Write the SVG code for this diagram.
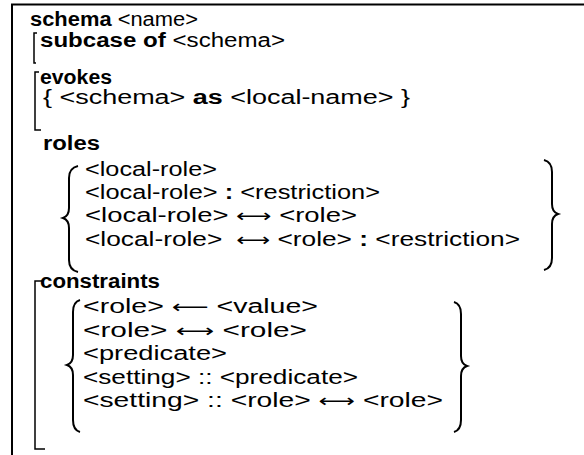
<svg xmlns="http://www.w3.org/2000/svg" width="584" height="455" viewBox="0 0 584 455">
<style>
text{font-family:"Liberation Sans",Arial,"DejaVu Sans",sans-serif;font-size:20px;fill:#000}
.b{font-weight:bold}
.ar{font-family:"DejaVu Sans",sans-serif;font-size:18px}
.ln{fill:none;stroke:#000;stroke-width:1.5}
.br{fill:none;stroke:#000;stroke-width:2}
.fr{fill:none;stroke:#000;stroke-width:2}
</style>
<rect width="584" height="455" fill="#fff"/>
<path class="fr" d="M12,455 V4.5 H584"/>

<g id="schema">
<text x="30" y="26" textLength="168" lengthAdjust="spacingAndGlyphs"><tspan class="b">schema</tspan> &lt;name&gt;</text>
</g>

<g id="subcase">
<path class="ln" d="M37,33 H34 V63 H36"/>
<text x="40" y="47" textLength="245" lengthAdjust="spacingAndGlyphs"><tspan class="b">subcase of</tspan> &lt;schema&gt;</text>
</g>

<g id="evokes">
<path class="ln" d="M39,72 H35 V130 H41"/>
<text x="40" y="84" textLength="72" lengthAdjust="spacingAndGlyphs" class="b">evokes</text>
<text x="43" y="104" textLength="367" lengthAdjust="spacingAndGlyphs">{ &lt;schema&gt; <tspan class="b">as</tspan> &lt;local-name&gt; }</text>
</g>

<g id="roles">
<text x="43" y="150" textLength="57" lengthAdjust="spacingAndGlyphs" class="b">roles</text>
<path class="br" d="M78,166 Q69,168 69,178 V208 Q69,216 63,218 Q69,220 69,228 V260 Q69,270 78,272"/>
<text x="85" y="176" textLength="132" lengthAdjust="spacingAndGlyphs">&lt;local-role&gt;</text>
<text x="85" y="199" textLength="295" lengthAdjust="spacingAndGlyphs">&lt;local-role&gt; <tspan class="b">:</tspan> &lt;restriction&gt;</text>
<text x="85" y="222" textLength="272" lengthAdjust="spacingAndGlyphs">&lt;local-role&gt; <tspan class="ar">⟷</tspan> &lt;role&gt;</text>
<text x="85" y="246" textLength="435" lengthAdjust="spacingAndGlyphs">&lt;local-role&gt; <tspan class="ar" dx="5">⟷</tspan> &lt;role&gt; <tspan class="b">:</tspan> &lt;restriction&gt;</text>
<path class="br" d="M544,160 Q552,162 552,172 V204 Q552,212 558,214 Q552,216 552,224 V258 Q552,268 544,270"/>
</g>

<g id="constraints">
<path class="ln" d="M42,281 H35 V449 H45"/>
<text x="40" y="288" textLength="120" lengthAdjust="spacingAndGlyphs" class="b">constraints</text>
<path class="br" d="M80,300 Q73,302 73,312 V355 Q73,363 67,365 Q73,367 73,375 V420 Q73,430 80,432"/>
<text x="83" y="313" textLength="235" lengthAdjust="spacingAndGlyphs">&lt;role&gt; <tspan class="ar">⟵</tspan> &lt;value&gt;</text>
<text x="83" y="337" textLength="224" lengthAdjust="spacingAndGlyphs">&lt;role&gt; <tspan class="ar">⟷</tspan> &lt;role&gt;</text>
<text x="83" y="360" textLength="144" lengthAdjust="spacingAndGlyphs">&lt;predicate&gt;</text>
<text x="83" y="384" textLength="275" lengthAdjust="spacingAndGlyphs">&lt;setting&gt; :: &lt;predicate&gt;</text>
<text x="83" y="407" textLength="360" lengthAdjust="spacingAndGlyphs">&lt;setting&gt; :: &lt;role&gt; <tspan class="ar">⟷</tspan> &lt;role&gt;</text>
<path class="br" d="M454,302 Q461,304 461,314 V356 Q461,364 467,366 Q461,368 461,376 V420 Q461,430 454,432"/>
</g>
</svg>
